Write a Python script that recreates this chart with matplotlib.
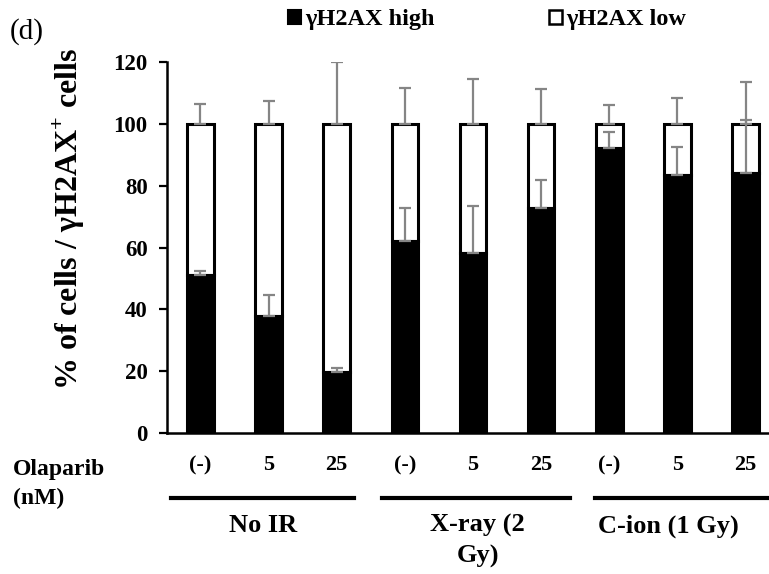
import matplotlib
matplotlib.use("Agg")
import matplotlib.pyplot as plt
from matplotlib.patches import Patch
from matplotlib.lines import Line2D

plt.rcParams["font.family"] = ["Liberation Serif", "DejaVu Serif"]
plt.rcParams["font.weight"] = "bold"
plt.rcParams["mathtext.fontset"] = "custom"
plt.rcParams["mathtext.rm"] = "Liberation Serif:bold"
plt.rcParams["mathtext.bf"] = "Liberation Serif:bold"

tick_labels = ["(-)", "5", "25", "(-)", "5", "25", "(-)", "5", "25"]
groups = ["No IR", "X-ray (2\nGy)", "C-ion (1 Gy)"]
high = [51.1, 37.9, 19.7, 62.2, 58.3, 72.7, 92.2, 83.3, 84.0]
high_err = [1.2, 6.8, 1.4, 10.7, 15.2, 9.1, 5.2, 9.2, 17.3]
low_err = [6.3, 7.3, 20.0, 11.6, 14.6, 11.2, 6.2, 8.2, 13.6]

fig = plt.figure(figsize=(7.69, 5.74), dpi=100)
ax = fig.add_axes([167 / 769, 141 / 574, 612 / 769, 371 / 574])

x = list(range(len(high)))
low = [100 - h for h in high]
w = 0.39
ax.bar(x, low, w, bottom=high, color="white", edgecolor="black", linewidth=2.2, zorder=2)
ax.bar(x, high, w, color="black", edgecolor="black", linewidth=2.2, zorder=2)
ek = dict(fmt="none", ecolor="#858585", elinewidth=1.6, capsize=4, capthick=1.6, zorder=3)
ax.errorbar(x, high, yerr=[[0] * len(x), high_err], **ek)
ax.errorbar(x, [100] * len(x), yerr=[[0] * len(x), low_err], **ek)

ax.set_xlim(-0.49, 8.49)
ax.set_ylim(0, 120)
ax.set_yticks(range(0, 121, 20))
ax.tick_params(axis="y", direction="out", length=6, width=1.6, labelsize=16.5, pad=8)
ax.tick_params(axis="x", length=0)
ax.set_xticks([])
for s in ["top", "right"]:
    ax.spines[s].set_visible(False)
ax.spines["left"].set_linewidth(1.8)
ax.spines["bottom"].set_linewidth(1.8)

ax.set_ylabel(r"% of cells / γH2AX$^{+}$ cells", fontsize=23, fontweight="bold")
ax.yaxis.set_label_coords(-0.13, 0.577)

for i, t in enumerate(tick_labels):
    ax.text(i, -10.4, t, ha="center", va="center", fontsize=16, clip_on=False)

spans = [(-0.43, 2.25), (2.66, 5.43), (5.79, 8.6)]
centers = [0.92, 4.07, 6.86]
for (a, b), c, g in zip(spans, centers, groups):
    ax.add_line(Line2D([a, b], [-21, -21], color="black", lw=3, clip_on=False))
    ax.text(c, -26.3, g, ha="center", va="top", fontsize=19, linespacing=1.42, clip_on=False)

fig.text(13 / 769, 1 - 469 / 574, "Olaparib", ha="left", va="center", fontsize=17)
fig.text(13 / 769, 1 - 498 / 574, "(nM)", ha="left", va="center", fontsize=17)
fig.text(10 / 769, 1 - 32 / 574, "(d)", ha="left", va="center", fontsize=21, fontweight="normal")

handles = [Patch(facecolor="black", edgecolor="black", lw=1.5),
           Patch(facecolor="white", edgecolor="black", lw=1.8)]
fig.legend(handles, ["γH2AX high", "γH2AX low"], ncol=2, loc="center",
           bbox_to_anchor=(487 / 769, 1 - 20 / 574), frameon=False, fontsize=17.5,
           handlelength=0.55, handleheight=0.55, handletextpad=0.16, columnspacing=4.7)

fig.savefig("out.png", dpi=100)
